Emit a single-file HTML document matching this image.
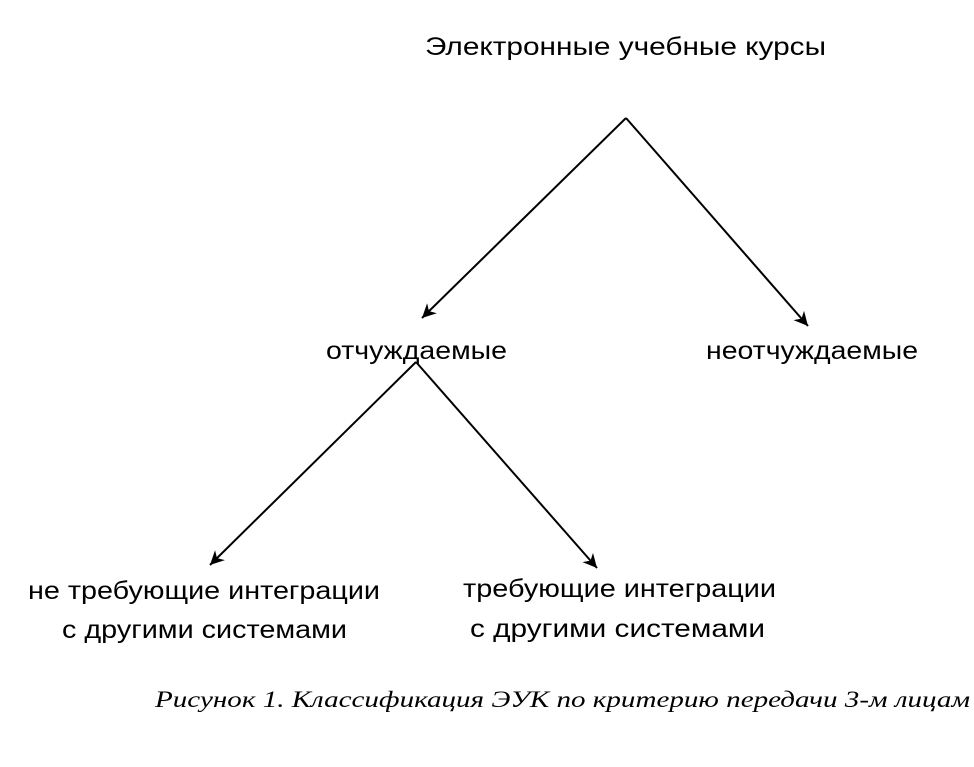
<!DOCTYPE html>
<html><head><meta charset="utf-8"><style>html,body{margin:0;padding:0;background:#fff}svg{display:block}</style></head>
<body>
<svg width="974" height="767" xmlns="http://www.w3.org/2000/svg">
<defs><marker id="a" viewBox="0 0 10 10" refX="10" refY="5" markerWidth="14" markerHeight="14" markerUnits="userSpaceOnUse" orient="auto"><path d="M0,0 L10,5 L0,10 L3,5 z" fill="#000"/></marker></defs>
<g stroke="#000" stroke-width="2" fill="none">
<line x1="626" y1="118" x2="422" y2="318" marker-end="url(#a)"/>
<line x1="626" y1="118" x2="808" y2="326" marker-end="url(#a)"/>
<line x1="416" y1="362" x2="210" y2="565" marker-end="url(#a)"/>
<line x1="416" y1="362" x2="597" y2="568" marker-end="url(#a)"/>
</g>
<g font-family="Liberation Sans, DejaVu Sans, sans-serif" font-size="25" fill="#000">
<text x="425" y="55" textLength="401" lengthAdjust="spacingAndGlyphs">Электронные учебные курсы</text>
<text x="326" y="359" textLength="181" lengthAdjust="spacingAndGlyphs">отчуждаемые</text>
<text x="706" y="359" textLength="212" lengthAdjust="spacingAndGlyphs">неотчуждаемые</text>
<text x="28" y="599" textLength="352" lengthAdjust="spacingAndGlyphs">не требующие интеграции</text>
<text x="62" y="638" textLength="285" lengthAdjust="spacingAndGlyphs">с другими системами</text>
<text x="463" y="597" textLength="313" lengthAdjust="spacingAndGlyphs">требующие интеграции</text>
<text x="470" y="637" textLength="295" lengthAdjust="spacingAndGlyphs">с другими системами</text>
</g>
<text x="155" y="707" font-family="Liberation Serif, serif" font-style="italic" font-size="23" textLength="815" lengthAdjust="spacingAndGlyphs">Рисунок 1. Классификация ЭУК по критерию передачи 3-м лицам</text>
</svg>
</body></html>
